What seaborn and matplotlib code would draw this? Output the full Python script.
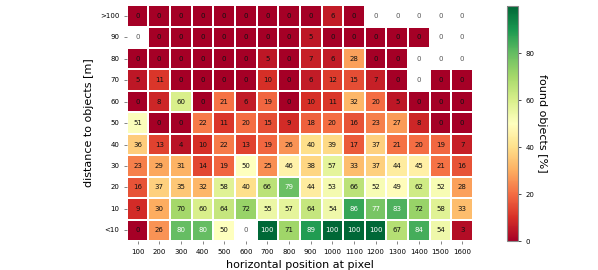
import numpy as np
import pandas as pd
import matplotlib
matplotlib.use("Agg")
import matplotlib.pyplot as plt
import seaborn as sns

# detection rate per distance bin (rows) and horizontal pixel bin (columns)
x_labels = [100, 200, 300, 400, 500, 600, 700, 800, 900, 1000, 1100, 1200, 1300, 1400, 1500, 1600]
y_labels = [">100", "90", "80", "70", "60", "50", "40", "30", "20", "10", "<10"]

N = np.nan  # bins without any objects
row_gt100 = [0, 0, 0, 0, 0, 0, 0, 0, 0, 6, 0, N, N, N, N, N]
row_90 = [N, 0, 0, 0, 0, 0, 0, 0, 5, 0, 0, 0, 0, 0, N, N]
row_80 = [0, 0, 0, 0, 0, 0, 5, 0, 7, 6, 28, 0, 0, N, N, N]
row_70 = [5, 11, 0, 0, 0, 0, 10, 0, 6, 12, 15, 7, 0, N, 0, 0]
row_60 = [0, 8, 60, 0, 21, 6, 19, 0, 10, 11, 32, 20, 5, 0, 0, 0]
row_50 = [51, 0, 0, 22, 11, 20, 15, 9, 18, 20, 16, 23, 27, 8, 0, 0]
row_40 = [36, 13, 4, 10, 22, 13, 19, 26, 40, 39, 17, 37, 21, 20, 19, 7]
row_30 = [23, 29, 31, 14, 19, 50, 25, 46, 38, 57, 33, 37, 44, 45, 21, 16]
row_20 = [16, 37, 35, 32, 58, 40, 66, 79, 44, 53, 66, 52, 49, 62, 52, 28]
row_10 = [9, 30, 70, 60, 64, 72, 55, 57, 64, 54, 86, 77, 83, 72, 58, 33]
row_lt10 = [0, 26, 80, 80, 50, N, 100, 71, 89, 100, 100, 100, 67, 84, 54, 3]

rows = [row_gt100, row_90, row_80, row_70, row_60, row_50,
        row_40, row_30, row_20, row_10, row_lt10]
df = pd.DataFrame(rows, index=y_labels, columns=x_labels)
mask = df.isna()

fig = plt.figure(figsize=(5.98, 2.7), dpi=100)
ax = fig.add_axes([0.212, 0.107, 0.579, 0.874])
cax = fig.add_axes([0.848, 0.107, 0.018, 0.870])

sns.heatmap(df, mask=mask, cmap="RdYlGn", vmin=0, vmax=100, annot=True, fmt=".0f",
            annot_kws={"fontsize": 5}, linewidths=1.3, linecolor="white",
            square=False, ax=ax, cbar_ax=cax,
            cbar_kws={"ticks": [0, 20, 40, 60, 80]})

# dark text except on the deep green cells
vals = df.values[~mask.values]
for txt, v in zip(ax.texts, vals):
    txt.set_color("white" if v >= 75 else "#111111")

# empty bins still get a grey 0
for i in range(df.shape[0]):
    for j in range(df.shape[1]):
        if mask.iat[i, j]:
            ax.text(j + 0.5, i + 0.5, "0", ha="center", va="center",
                    fontsize=5, color="#555555")

ax.set_xlabel("horizontal position at pixel", fontsize=8)
ax.set_ylabel("distance to objects [m]", fontsize=8)
ax.tick_params(axis="both", labelsize=5, length=2, width=0.5, color="#555555")
plt.setp(ax.get_yticklabels(), rotation=0)
plt.setp(ax.get_xticklabels(), rotation=0)

cbar = ax.collections[0].colorbar
cbar.ax.tick_params(labelsize=5, length=2, width=0.5)
cbar.set_label("found objects [%]", fontsize=8, rotation=270, labelpad=9)
cbar.outline.set_edgecolor("#888888")
cbar.outline.set_linewidth(0.8)

fig.savefig("out.png", dpi=100)
